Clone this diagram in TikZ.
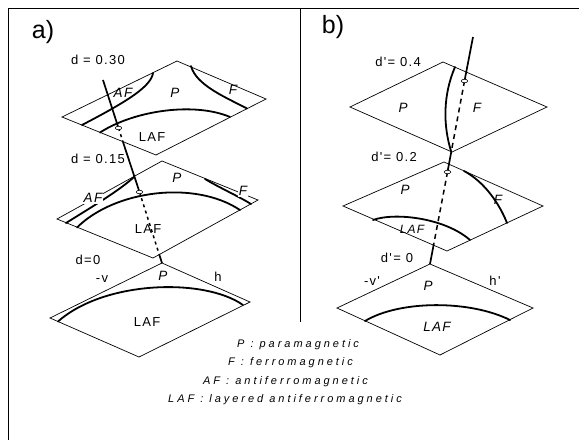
\documentclass[tikz,border=0pt]{standalone}
\usepackage{fontspec}
\setmainfont{Liberation Sans}
\newfontfamily\lab[LetterSpace=10]{Liberation Sans}
\newfontfamily\leg[LetterSpace=27]{Liberation Sans}
\begin{document}
\begin{tikzpicture}[x=1pt,y=-1pt,
  edge/.style={line width=0.7pt,line join=miter},
  bnd/.style={line width=1.8pt,line cap=round},
  col/.style={line width=1.7pt},
  dasha/.style={line width=1.5pt,dash pattern=on 3pt off 3.5pt},
  dashb/.style={line width=1.5pt,dash pattern=on 5pt off 4pt},
  hole/.style={line width=0.6pt,fill=white},
  txt/.style={font=\lab\fontsize{13}{13}\selectfont,inner sep=0.5pt},
  reg/.style={font=\lab\itshape\fontsize{13.5}{13.5}\selectfont,inner sep=0.5pt},
  regw/.style={reg,fill=white,inner sep=1pt},
  panel/.style={font=\fontsize{25}{25}\selectfont,inner sep=0pt},
  legt/.style={font=\leg\itshape\fontsize{11}{11}\selectfont,anchor=west,inner sep=0pt}]
\useasboundingbox (0,0) rectangle (579,440);
\fill[white] (0,0) rectangle (579,440);
% frame
\coordinate (f1) at (8.5,440);
\coordinate (f2) at (8.5,8.5);
\coordinate (f3) at (579,8.5);
\coordinate (m1) at (300,8.5);
\coordinate (m2) at (300,322);
\draw[line width=1pt] (f1) -- (f2) -- (f3);
\draw[line width=1pt] (m1) -- (m2);
\node[panel] (pa) at (43,32) {a)};
\node[panel] (pb) at (333,27) {b)};
% ================= panel a =================
% top diamond
\coordinate (T1) at (177,61); \coordinate (R1) at (266,99);
\coordinate (B1) at (156,155); \coordinate (L1) at (62,117);
\draw[edge] (T1) -- (R1) -- (B1) -- (L1) -- cycle;
\coordinate (a1s) at (153,73); \coordinate (a1e) at (82,125);
\draw[bnd] (a1s) .. controls (151,86) and (130,100) .. (a1e);
\coordinate (l1s) at (100,132.5); \coordinate (l1e) at (230,117);
\draw[bnd] (l1s) .. controls (135,110) and (195,102) .. (l1e);
\coordinate (f1s) at (191,66); \coordinate (f1e) at (247,108.5);
\draw[bnd] (f1s) .. controls (196,85) and (225,97) .. (f1e);
\node[txt] (da1) at (98,60) {d = 0.30};
\node[reg] (af1) at (123,93) {AF};
\node[reg] (p1) at (175,93) {P};
\node[reg] (ff1) at (233,90) {F};
\node[txt] (laf1) at (152,137) {LAF};
% middle diamond
\coordinate (T2) at (162,161); \coordinate (R2) at (258,200);
\coordinate (B2) at (153,258); \coordinate (L2) at (57,219);
\draw[edge] (T2) -- (R2) -- (B2) -- (L2) -- cycle;
\coordinate (a2s) at (66,223); \coordinate (a2e) at (134,177);
\draw[bnd] (a2s) .. controls (95,205) and (120,190) .. (a2e);
\coordinate (l2s) at (77,227.5); \coordinate (l2e) at (240,210);
\draw[bnd] (l2s) .. controls (115,190) and (195,180) .. (l2e);
\coordinate (f2s) at (205,179); \coordinate (f2e) at (251,204);
\draw[bnd] (f2s) .. controls (220,188) and (238,196) .. (f2e);
\node[txt] (da2) at (98,159) {d = 0.15};
\node[regw] (af2) at (93,198) {AF};
\node[reg] (p2) at (177,178) {P};
\node[regw] (ff2) at (243,191) {F};
\node[txt] (laf2) at (148,229) {LAF};
% bottom diamond
\coordinate (T3) at (162,263); \coordinate (R3) at (250,302);
\coordinate (B3) at (139,357); \coordinate (L3) at (50,318);
\draw[edge] (T3) -- (R3) -- (B3) -- (L3) -- cycle;
\coordinate (l3s) at (58,321.5); \coordinate (l3e) at (243,305);
\draw[bnd] (l3s) .. controls (105,280) and (205,278) .. (l3e);
\node[txt] (da3) at (88,260) {d=0};
\node[txt] (va) at (102,279) {-v};
\node[reg] (p3) at (163,276) {P};
\node[txt] (ha) at (218,277) {h};
\node[txt] (laf3) at (147,322) {LAF};
% column a
\coordinate (C0) at (103,80);
\coordinate (E1) at (118.5,128);
\coordinate (X1) at (123,142);
\coordinate (E2) at (139.5,192);
\coordinate (X2) at (159.3,254.7);
\draw[col] (C0) -- (E1);
\draw[dasha] (E1) -- (X1);
\draw[col] (X1) -- (E2);
\draw[dasha] (E2) -- (X2);
\draw[col] (X2) -- (T3);
\draw[hole] (E1) ellipse [x radius=3.2, y radius=1.8];
\draw[hole] (E2) ellipse [x radius=3.2, y radius=1.8];
% ================= panel b =================
\coordinate (T4) at (443,62); \coordinate (R4) at (547,107);
\coordinate (B4) at (452,152); \coordinate (L4) at (350,107);
\draw[edge] (T4) -- (R4) -- (B4) -- (L4) -- cycle;
\coordinate (g1s) at (455,67); \coordinate (g1e) at (451,151);
\draw[bnd] (g1s) .. controls (443,95) and (443,125) .. (g1e);
\node[txt] (db1) at (398,62) {d'= 0.4};
\node[reg] (p4) at (403,108) {P};
\node[reg] (ff4) at (477,108) {F};
% middle diamond b
\coordinate (T5) at (444,162); \coordinate (R5) at (543,206);
\coordinate (B5) at (447,251); \coordinate (L5) at (343,206);
\draw[edge] (T5) -- (R5) -- (B5) -- (L5) -- cycle;
\coordinate (g2s) at (464,171); \coordinate (g2e) at (507,223);
\draw[bnd] (g2s) .. controls (485,182) and (500,205) .. (g2e);
\coordinate (h2s) at (373,220); \coordinate (h2e) at (470,240);
\draw[bnd] (h2s) .. controls (395,212) and (445,218) .. (h2e);
\node[txt] (db2) at (394,157) {d'= 0.2};
\node[reg] (p5) at (405,190) {P};
\node[reg] (ff5) at (498,200) {F};
\node[reg,font=\lab\itshape\fontsize{12}{12}\selectfont] (laf5) at (412,229) {LAF};
% bottom diamond b
\coordinate (T6) at (430,264); \coordinate (R6) at (533,308);
\coordinate (B6) at (440,355); \coordinate (L6) at (337,308);
\draw[edge] (T6) -- (R6) -- (B6) -- (L6) -- cycle;
\coordinate (h3s) at (365,321); \coordinate (h3e) at (510,320);
\draw[bnd] (h3s) .. controls (400,300) and (470,300) .. (h3e);
\node[txt] (db3) at (397,258) {d'= 0};
\node[txt] (vb) at (372,281) {-v'};
\node[reg] (p6) at (428,286) {P};
\node[txt] (hb) at (495,281) {h'};
\node[reg] (laf6) at (437,327) {LAF};
% column b
\coordinate (D0) at (473,37);
\coordinate (G1) at (464.5,81);
\coordinate (Y1) at (451.4,151);
\coordinate (G2) at (447.5,172);
\coordinate (Y2) at (433.6,245);
\draw[col] (D0) -- (G1);
\draw[dashb] (G1) -- (Y1);
\draw[col] (Y1) -- (G2);
\draw[dashb] (G2) -- (Y2);
\draw[col] (Y2) -- (T6);
\draw[hole] (G1) ellipse [x radius=3.2, y radius=1.8];
\draw[hole] (G2) ellipse [x radius=3.2, y radius=1.8];
% legend
\node[legt] (lg1) at (237,345) {P : paramagnetic};
\node[legt] (lg2) at (228,363) {F : ferromagnetic};
\node[legt] (lg3) at (203,382) {AF : antiferromagnetic};
\node[legt] (lg4) at (168,400) {LAF : layered antiferromagnetic};
\end{tikzpicture}
\end{document}
